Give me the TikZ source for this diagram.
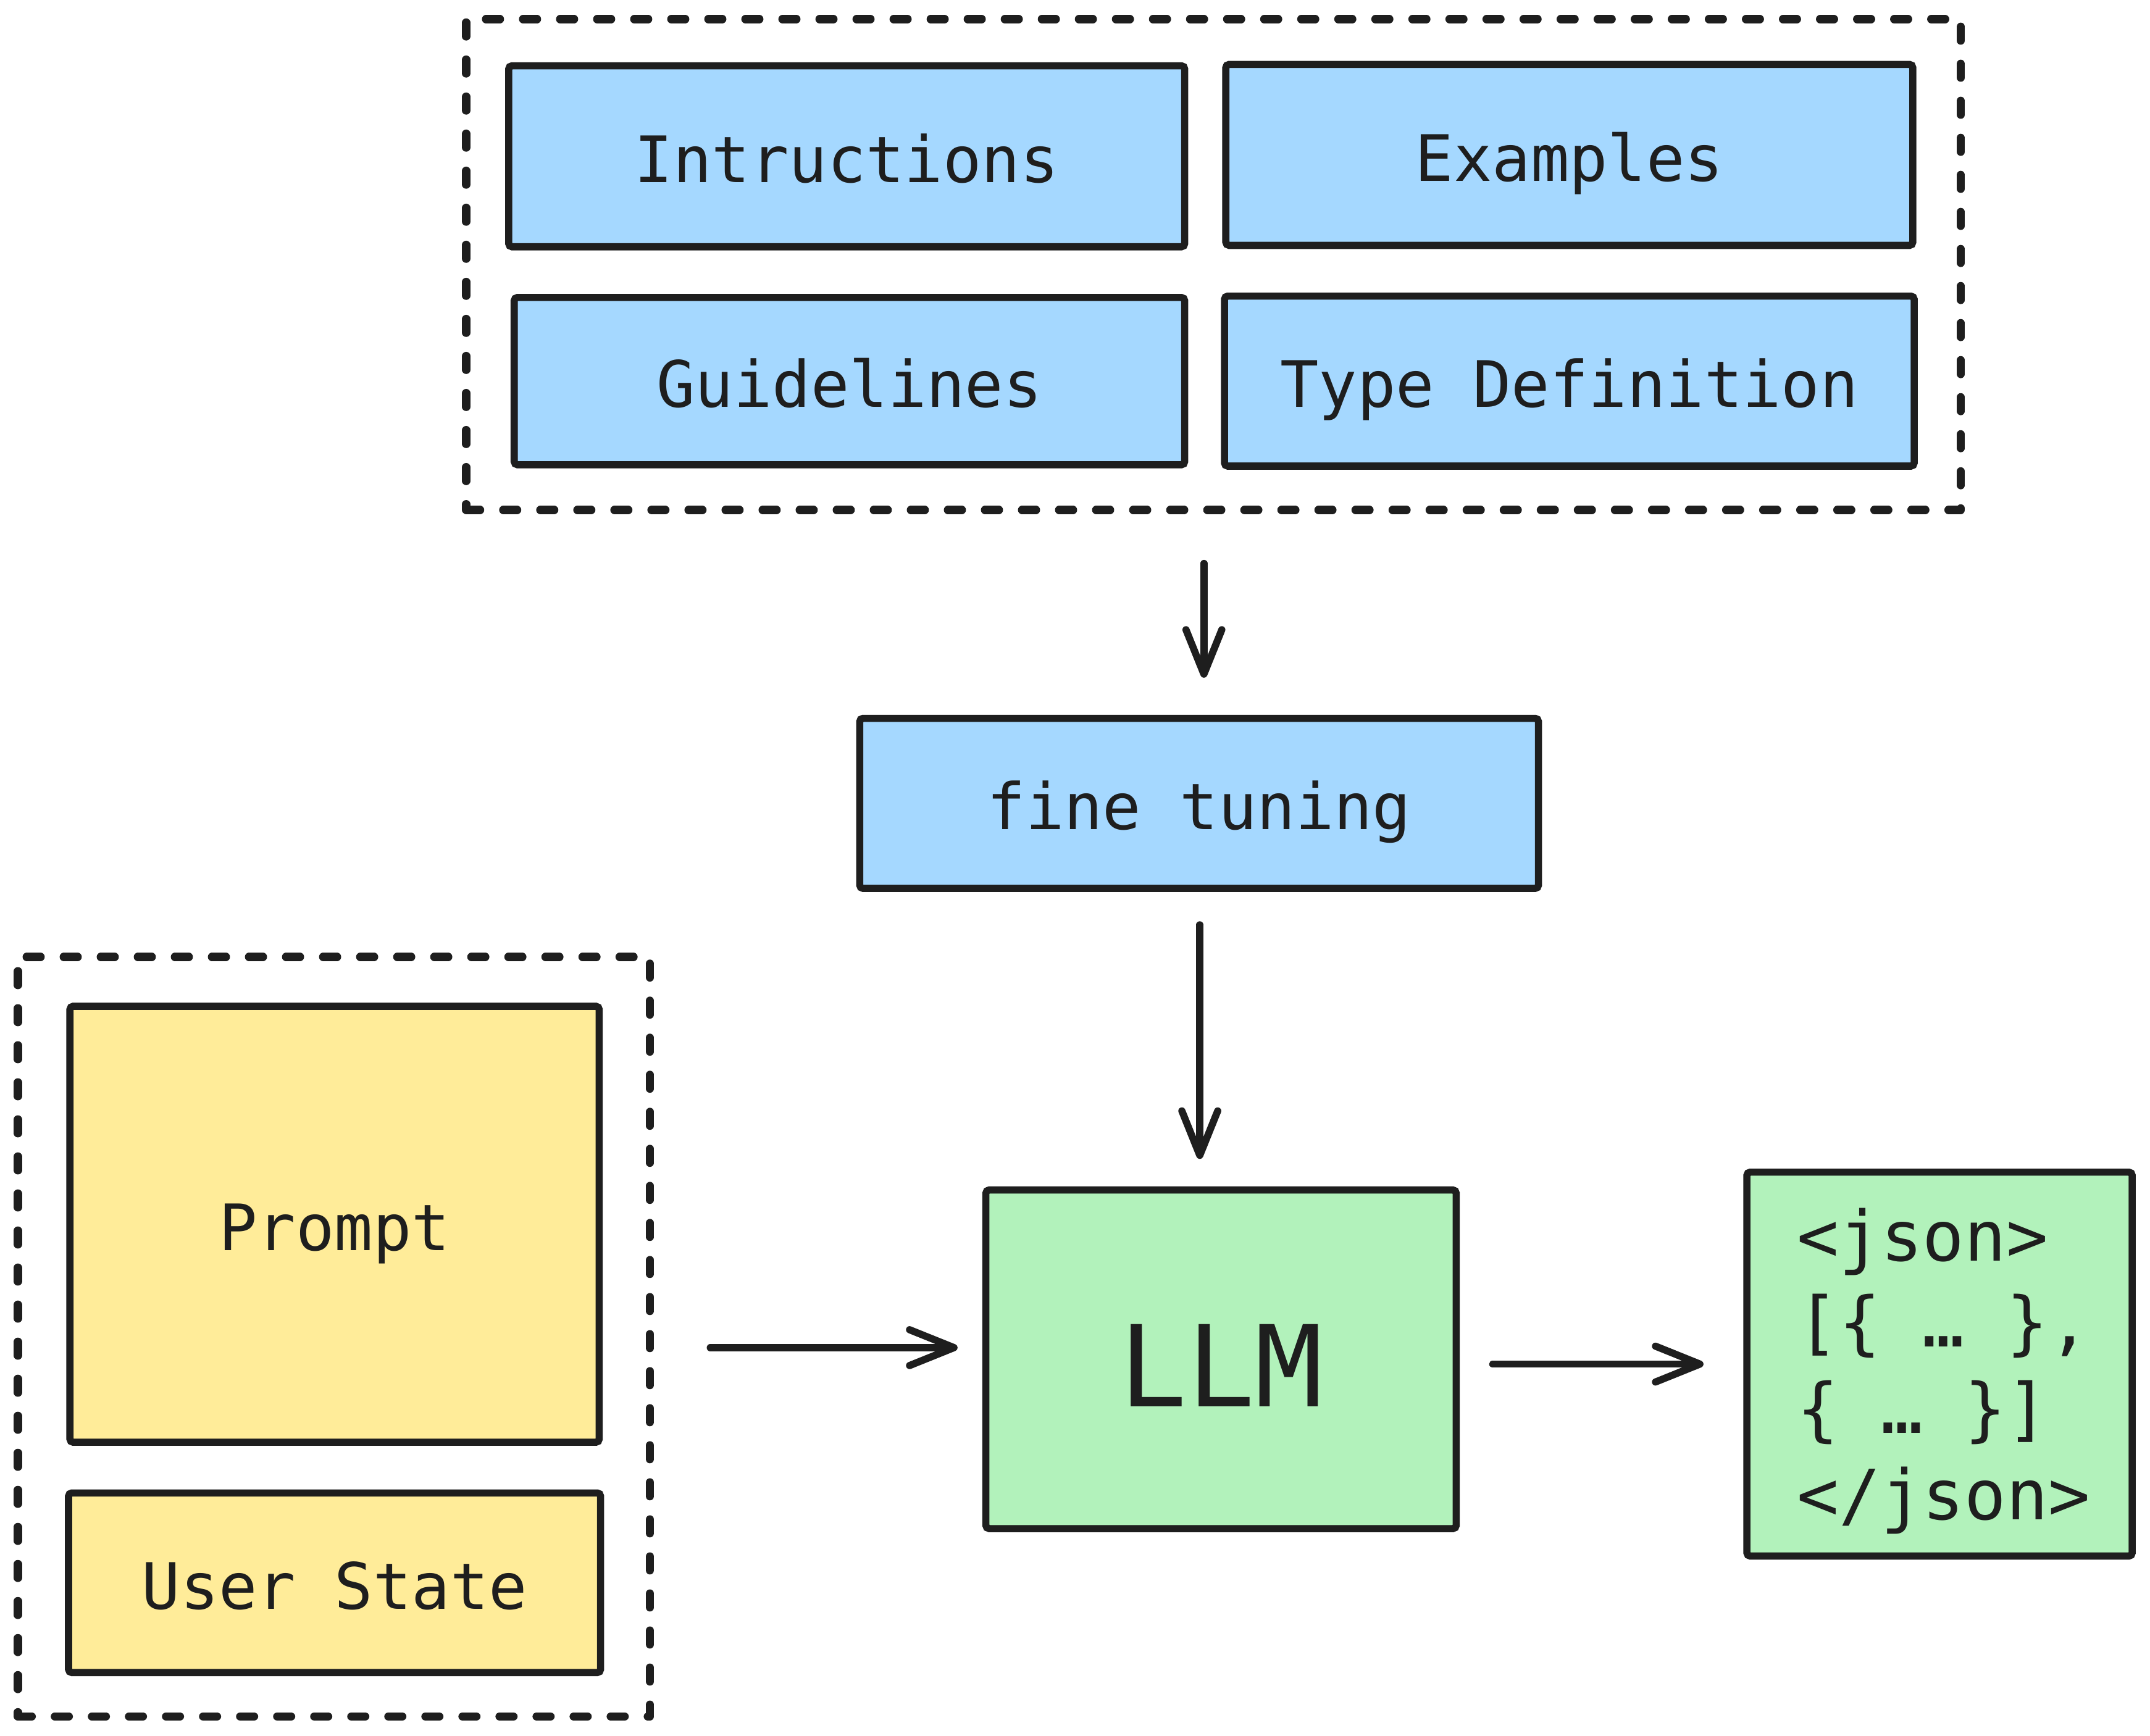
\documentclass[tikz,border=0pt]{standalone}
\usepackage{fontspec}
\setmonofont{DejaVu Sans Mono}
\usetikzlibrary{arrows.meta,fit,calc}
\definecolor{ink}{HTML}{1E1E1E}
\definecolor{bluefill}{HTML}{A5D8FF}
\definecolor{yellowfill}{HTML}{FFEC99}
\definecolor{greenfill}{HTML}{B2F2BB}
\tikzset{
  box/.style={draw=ink, line width=3.3pt, rounded corners=1.5pt, inner sep=0pt},
  bluebox/.style={box, fill=bluefill},
  yellowbox/.style={box, fill=yellowfill},
  greenbox/.style={box, fill=greenfill},
  lbl/.style={inner sep=0pt, text=ink, text height=21.5pt, text depth=0pt, yshift=-1.3pt,
    font=\ttfamily\fontsize{29.5}{35}\selectfont},
  group/.style={draw=ink, line width=3.8pt, dash pattern=on 0.225cm off 0.375cm, line cap=round, line join=round, inner sep=0pt},
  arr/.style={draw=ink, line width=3.3pt, line cap=round,
    -{Straight Barb[length=0.72cm,width=0.58cm,line cap=round,line join=round]}},
}
\begin{document}
\begin{tikzpicture}[x=0.022207cm,y=-0.022207cm]
\useasboundingbox (0,0) rectangle (1568,1266);
% top group
\node[group, fit={(340,14) (1430,372)}] (topgrp) {};
\node[bluebox, fit={(371,48) (864,180)}] (instr) {};
\node[lbl] (instr-t) at (instr.center) {Intructions};
\node[bluebox, fit={(894,47) (1395,179)}] (examples) {};
\node[lbl] (examples-t) at (examples.center) {Examples};
\node[bluebox, fit={(375,217) (864,339)}] (guide) {};
\node[lbl] (guide-t) at (guide.center) {Guidelines};
\node[bluebox, fit={(893,216) (1396,340)}] (typedef) {};
\node[lbl] (typedef-t) at (typedef.center) {Type Definition};
% fine tuning
\node[bluebox, fit={(627,524) (1122,648)}] (ft) {};
\node[lbl] (ft-t) at (ft.center) {fine tuning};
% left group
\node[group, fit={(13,698) (474,1252)}] (leftgrp) {};
\node[yellowbox, fit={(51,734) (437,1052)}] (prompt) {};
\node[lbl] (prompt-t) at (prompt.center) {Prompt};
\node[yellowbox, fit={(50,1089) (438,1220)}] (user) {};
\node[lbl] (user-t) at (user.center) {User State};
% LLM
\node[greenbox, fit={(719,868) (1062,1115)}] (llm) {};
\node[lbl, text height=37.9pt, yshift=-1.5pt, font=\ttfamily\fontsize{52}{60}\selectfont] (llm-t) at (llm.center) {LLM};
% json
\node[greenbox, fit={(1274,855) (1555,1135)}] (json) {};
\node[inner sep=0pt, text=ink, align=left, anchor=west, font=\ttfamily\fontsize{32}{39.7}\selectfont] (json-t) at ($(json.west)+(39,5)$) {<json>\\\relax [\{ … \},\\\{ … \}]\\</json>};
% arrows
\draw[arr] ($(topgrp.south)+(-7,36)$) -- ($(ft.north)+(3.5,-27)$);
\draw[arr] ($(ft.south)+(0.5,24)$) -- ($(ft.south |- llm.north)+(0.5,-20)$);
\draw[arr] ($(leftgrp.east |- llm.west)+(41,-8.5)$) -- ($(llm.west)+(-18,-8.5)$);
\draw[arr] ($(llm.east)+(24,3.5)$) -- ($(json.west |- llm.east)+(-29,3.5)$);
\end{tikzpicture}
\end{document}
